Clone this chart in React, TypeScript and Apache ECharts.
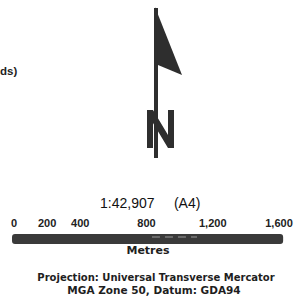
import React, { useEffect, useRef } from "react";
import * as echarts from "echarts";

const tickValues = [0, 200, 400, 800, 1200, 1600];
const tickLabels = ["0", "200", "400", "800", "1,200", "1,600"];
const scaleBarRange = [-12, 1625];
const scanDashRange = [833, 1105];
const scaleRatioText = "1:42,907     (A4)";
const unitsText = "Metres";
const projectionLines = [
  "Projection: Universal Transverse Mercator",
  "MGA Zone 50, Datum: GDA94",
];
const croppedText = "ds)";
const ink = "#2e2e2e";

export default function App() {
  const ref = useRef<HTMLDivElement>(null);
  useEffect(() => {
    if (!ref.current) return;
    const chart = echarts.init(ref.current, undefined, { renderer: "svg" });
    chart.setOption({
      animation: false,
      backgroundColor: "#ffffff",
      grid: { left: 14, right: 19, top: 234, height: 10 },
      xAxis: {
        type: "value",
        min: 0,
        max: 1600,
        position: "top",
        axisLine: { show: false },
        axisTick: { show: false },
        splitLine: { show: false },
        axisLabel: {
          customValues: tickValues,
          formatter: (v: number) => tickLabels[tickValues.indexOf(v)] ?? "",
          margin: 6,
          fontSize: 11,
          fontWeight: "bold",
          fontFamily: "Liberation Sans",
          color: "#222222",
          hideOverlap: false,
        },
      },
      yAxis: { type: "value", min: 0, max: 1, show: false },
      series: [
        {
          type: "custom",
          clip: false,
          data: [[scaleBarRange[0], scaleBarRange[1], scanDashRange[0], scanDashRange[1]]],
          renderItem: (params: any, api: any) => {
            const s = api.coord([api.value(0), 1]);
            const e = api.coord([api.value(1), 0]);
            const d0 = api.coord([api.value(2), 0.7]);
            const d1 = api.coord([api.value(3), 0.7]);
            return {
              type: "group",
              children: [
                {
                  type: "rect",
                  shape: { x: s[0], y: s[1], width: e[0] - s[0], height: e[1] - s[1], r: 3 },
                  style: { fill: "#3a3a3a" },
                },
                {
                  type: "line",
                  shape: { x1: d0[0], y1: d0[1], x2: d1[0], y2: d1[1] },
                  style: { stroke: "#9a9a9a", lineWidth: 1, lineDash: [8, 5] },
                },
              ],
            };
          },
        },
      ],
      graphic: [
        { type: "rect", shape: { x: 154, y: 8, width: 4, height: 150 }, style: { fill: ink } },
        { type: "polygon", shape: { points: [[155, 7], [182, 75], [158, 65]] }, style: { fill: ink } },
        {
          type: "polygon",
          shape: {
            points: [[147, 110], [153, 110], [168, 135], [168, 110], [174, 110], [174, 148], [168, 148], [153, 123], [153, 148], [147, 148]],
          },
          style: { fill: ink },
        },
        {
          type: "text",
          style: { text: scaleRatioText, x: 100, y: 203, textAlign: "left", textVerticalAlign: "middle", font: '14px "Liberation Sans"', fill: "#111111" },
        },
        {
          type: "text",
          style: { text: unitsText, x: 148, y: 250, textAlign: "center", textVerticalAlign: "middle", font: 'bold 11px "DejaVu Sans"', fill: "#1e1e1e" },
        },
        {
          type: "text",
          style: { text: projectionLines[0], x: 156, y: 277, textAlign: "center", textVerticalAlign: "middle", font: 'bold 10px "DejaVu Sans"', fill: "#1e1e1e" },
        },
        {
          type: "text",
          style: { text: projectionLines[1], x: 154, y: 290, textAlign: "center", textVerticalAlign: "middle", font: 'bold 10.5px "DejaVu Sans"', fill: "#1e1e1e" },
        },
        {
          type: "text",
          style: { text: croppedText, x: 0, y: 71, textAlign: "left", textVerticalAlign: "middle", font: 'bold 11.5px "Liberation Sans"', fill: "#1e1e1e" },
        },
      ],
    });
    return () => chart.dispose();
  }, []);
  return (
    <div
      ref={ref}
      style={{ position: "absolute", left: 0, top: 0, width: 298, height: 297 }}
    />
  );
}
